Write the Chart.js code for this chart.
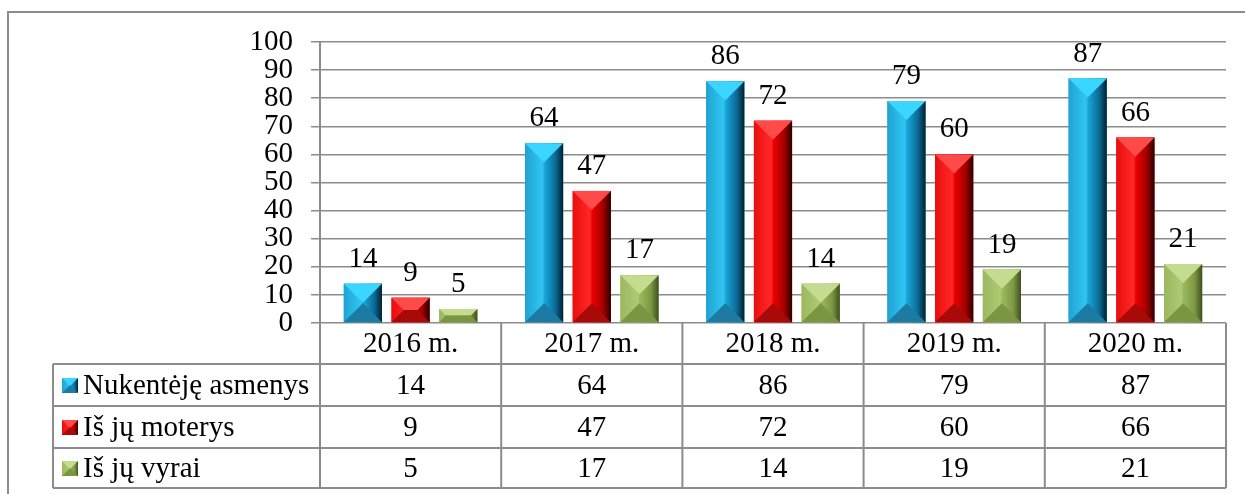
<!DOCTYPE html>
<html>
<head>
<meta charset="utf-8">
<script src="https://cdn.jsdelivr.net/npm/chart.js@4.4.1/dist/chart.umd.min.js"></script>
<style>
  html, body { margin: 0; padding: 0; background: #ffffff; }
  #wrap { width: 1245px; height: 494px; }
</style>
</head>
<body>
<div id="wrap"><canvas id="c" width="1245" height="494"></canvas></div>
<script>
// ---- Data ----
const categories = ['2016 m.', '2017 m.', '2018 m.', '2019 m.', '2020 m.'];
const seriesNames = ['Nukentėję asmenys', 'Iš jų moterys', 'Iš jų vyrai'];
const victims = [14, 64, 86, 79, 87];
const women = [9, 47, 72, 60, 66];
const men = [5, 17, 14, 19, 21];
const yMin = 0, yMax = 100, yStep = 10;

// ---- Styles ----
const FONT = "'Liberation Serif', 'Times New Roman', serif";
const FSIZE = 29;
const GRID = '#8c8c8c';
const palettes = [
  { base: '#10A8DC', stops: ['#139DCF', '#22C3F3', '#1AA8DC', '#0A6A95', '#01202F'], top: '#3AD6FF', bot: '#1C7AA3' },
  { base: '#FF0000', stops: ['#E80000', '#FF1A1A', '#F00000', '#A00000', '#2A0000'], top: '#FF4A4A', bot: '#A80A0A' },
  { base: '#9BBB59', stops: ['#95B456', '#A9C76A', '#9CBA5C', '#7C9843', '#3E4F1F'], top: '#C4DC90', bot: '#7A9642' }
];

function poly(ctx, pts, fill) {
  ctx.beginPath();
  ctx.moveTo(pts[0][0], pts[0][1]);
  for (let i = 1; i < pts.length; i++) ctx.lineTo(pts[i][0], pts[i][1]);
  ctx.closePath();
  ctx.fillStyle = fill;
  ctx.fill();
}

function bevel(ctx, l, t, r, b, p) {
  const w = r - l, h = b - t;
  if (w <= 0 || h <= 0) return;
  const d = Math.min(w, h) / 2;
  const g = ctx.createLinearGradient(l, 0, r, 0);
  g.addColorStop(0, p.stops[0]);
  g.addColorStop(0.45, p.stops[1]);
  g.addColorStop(0.5, p.stops[2]);
  g.addColorStop(0.8, p.stops[3]);
  g.addColorStop(1, p.stops[4]);
  ctx.fillStyle = g;
  ctx.fillRect(l, t, w, h);
  // subtle left bevel highlight
  poly(ctx, [[l, t], [l + d, t + d], [l + d, b - d], [l, b]], 'rgba(255,255,255,0.06)');
  // top bevel
  poly(ctx, [[l, t], [r, t], [r - d, t + d], [l + d, t + d]], p.top);
  // bottom bevel
  poly(ctx, [[l, b], [r, b], [r - d, b - d], [l + d, b - d]], p.bot);
}

const framePlugin = {
  id: 'frame',
  beforeDraw(chart) {
    const ctx = chart.ctx;
    ctx.save();
    ctx.fillStyle = '#ffffff';
    ctx.fillRect(0, 0, chart.width, chart.height);
    ctx.strokeStyle = GRID;
    ctx.lineWidth = 2;
    ctx.beginPath();
    ctx.moveTo(8, 494);
    ctx.lineTo(8, 12);
    ctx.lineTo(1245, 12);
    ctx.stroke();
    ctx.restore();
  }
};

const bevelPlugin = {
  id: 'bevelBars',
  afterDatasetsDraw(chart) {
    const ctx = chart.ctx;
    ctx.save();
    chart.data.datasets.forEach((ds, di) => {
      const meta = chart.getDatasetMeta(di);
      meta.data.forEach((el) => {
        const half = el.width / 2;
        const top = Math.min(el.y, el.base), bot = Math.max(el.y, el.base);
        bevel(ctx, el.x - half, top, el.x + half, bot, palettes[di]);
      });
    });
    // value labels
    ctx.fillStyle = '#000';
    ctx.font = FSIZE + 'px ' + FONT;
    ctx.textAlign = 'center';
    ctx.textBaseline = 'alphabetic';
    chart.data.datasets.forEach((ds, di) => {
      const meta = chart.getDatasetMeta(di);
      meta.data.forEach((el, i) => {
        ctx.fillText(String(ds.data[i]), el.x, el.y - 17);
      });
    });
    ctx.restore();
  }
};

const tablePlugin = {
  id: 'dataTable',
  afterDraw(chart) {
    const ctx = chart.ctx;
    const ca = chart.chartArea;
    const xs = chart.scales.x;
    const n = categories.length;
    const cw = (ca.right - ca.left) / n;
    const rows = [ca.bottom, 364, 406, 448, 488];
    const legendLeft = 53;
    ctx.save();
    ctx.strokeStyle = GRID;
    ctx.lineWidth = 2;
    ctx.beginPath();
    for (let i = 0; i <= n; i++) {
      const x = ca.left + i * cw;
      ctx.moveTo(x, ca.bottom);
      ctx.lineTo(x, rows[4]);
    }
    for (let r = 1; r < rows.length; r++) {
      ctx.moveTo(legendLeft, rows[r]);
      ctx.lineTo(ca.right, rows[r]);
    }
    ctx.moveTo(legendLeft, rows[1]);
    ctx.lineTo(legendLeft, rows[4]);
    ctx.stroke();

    ctx.fillStyle = '#000';
    ctx.font = FSIZE + 'px ' + FONT;
    ctx.textBaseline = 'middle';
    ctx.textAlign = 'center';
    categories.forEach((c, i) => {
      ctx.fillText(c, xs.getPixelForValue(i), (rows[0] + rows[1]) / 2 + 1);
    });
    const all = [victims, women, men];
    all.forEach((arr, si) => {
      const yc = (rows[si + 1] + rows[si + 2]) / 2 + 1;
      arr.forEach((v, i) => {
        ctx.textAlign = 'center';
        ctx.fillStyle = '#000';
        ctx.fillText(String(v), xs.getPixelForValue(i), yc);
      });
      bevel(ctx, 62, yc - 8, 78, yc + 7, palettes[si]);
      ctx.textAlign = 'left';
      ctx.fillStyle = '#000';
      ctx.fillText(seriesNames[si], 83, yc);
    });
    ctx.restore();
  }
};

new Chart(document.getElementById('c'), {
  type: 'bar',
  data: {
    labels: categories,
    datasets: [
      { label: seriesNames[0], data: victims, backgroundColor: palettes[0].base },
      { label: seriesNames[1], data: women, backgroundColor: palettes[1].base },
      { label: seriesNames[2], data: men, backgroundColor: palettes[2].base }
    ]
  },
  options: {
    responsive: false,
    animation: false,
    devicePixelRatio: 1,
    layout: { padding: { left: 0, right: 19, top: 42, bottom: 171 } },
    datasets: { bar: { categoryPercentage: 0.79, barPercentage: 0.8 } },
    plugins: { legend: { display: false }, tooltip: { enabled: false }, title: { display: false } },
    scales: {
      x: { display: false },
      y: {
        min: yMin, max: yMax,
        afterFit(s) { s.width = 320; },
        ticks: { stepSize: yStep, autoSkip: false, color: '#000', padding: 18, font: { family: FONT, size: FSIZE } },
        grid: { color: GRID, lineWidth: 1.5, tickLength: 9, drawTicks: true },
        border: { display: true, color: GRID, width: 2 }
      }
    }
  },
  plugins: [framePlugin, bevelPlugin, tablePlugin]
});
</script>
</body>
</html>
